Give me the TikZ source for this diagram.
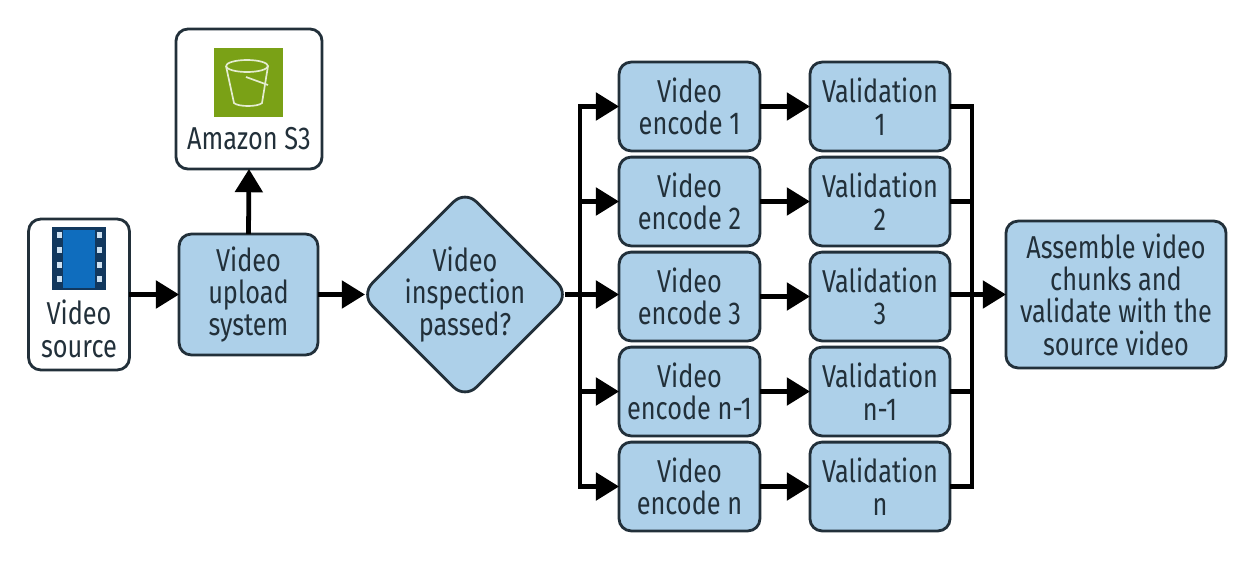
\documentclass[tikz,border=0pt]{standalone}
\usepackage{fontspec}
\setmainfont[FakeStretch=0.8]{Fira Sans}
\usetikzlibrary{arrows.meta, shapes.geometric}
\definecolor{BoxBlue}{HTML}{ADD0E9}
\definecolor{BoxEdge}{HTML}{22303A}
\definecolor{BucketGreen}{HTML}{7AA116}
\definecolor{FilmBlue}{HTML}{0F6DBE}
\definecolor{FilmDark}{HTML}{12385E}
\tikzset{
    stage/.style={draw=BoxEdge, line width=2pt, rounded corners=0.3cm, fill=BoxBlue, align=center, inner sep=0pt, outer sep=0pt, font=\fontsize{22.5}{23}\selectfont, text=BoxEdge},
    iconbox/.style={draw=BoxEdge, line width=2pt, rounded corners=0.3cm, fill=white, inner sep=0pt, outer sep=0pt},
    iconlabel/.style={font=\fontsize{22.5}{23}\selectfont, text=BoxEdge, align=center, inner sep=0pt},
    flow/.style={line width=3.4pt, black, -{Triangle[length=0.58cm, width=0.68cm]}},
    bus/.style={line width=3.4pt, black}
}
\begin{document}
\begin{tikzpicture}[x=0.025cm, y=-0.025cm]
        \useasboundingbox (0,0) rectangle (1254,567);

        \node[iconbox, minimum width=3.65cm, minimum height=3.5cm] (s3) at (249,99) {};
        \node[iconbox, minimum width=2.52cm, minimum height=3.77cm] (source) at (79,294.5) {};
        \node[stage, minimum width=3.47cm, minimum height=3.02cm] (upload) at (248.5,294.5) {Video\\upload\\system};
        \node[stage, shape=diamond, aspect=1, inner sep=-0.15cm, rounded corners=0.4cm, minimum width=5.2cm, minimum height=5.2cm] (inspect) at (465,294.5) {Video\\inspection\\passed?};

        \node[stage, minimum width=3.52cm, minimum height=2.22cm] (enc1) at (689.5,106.5) {Video\\encode 1};
        \node[stage, minimum width=3.52cm, minimum height=2.22cm] (enc2) at (689.5,201.5) {Video\\encode 2};
        \node[stage, minimum width=3.52cm, minimum height=2.22cm] (enc3) at (689.5,296.5) {Video\\encode 3};
        \node[stage, minimum width=3.52cm, minimum height=2.22cm] (enc4) at (689.5,391.5) {Video\\encode n-1};
        \node[stage, minimum width=3.52cm, minimum height=2.22cm] (enc5) at (689.5,486.5) {Video\\encode n};

        \node[stage, minimum width=3.5cm, minimum height=2.22cm] (val1) at (880,106.5) {Validation\\1};
        \node[stage, minimum width=3.5cm, minimum height=2.22cm] (val2) at (880,201.5) {Validation\\2};
        \node[stage, minimum width=3.5cm, minimum height=2.22cm] (val3) at (880,296.5) {Validation\\3};
        \node[stage, minimum width=3.5cm, minimum height=2.22cm] (val4) at (880,391.5) {Validation\\n-1};
        \node[stage, minimum width=3.5cm, minimum height=2.22cm] (val5) at (880,486.5) {Validation\\n};

        \node[stage, minimum width=5.5cm, minimum height=3.67cm] (assemble) at (1116,294.5) {Assemble video\\chunks and\\validate with the\\source video};

        % bucket icon
        \fill[BucketGreen] (214,48) rectangle (283,117);
        \draw[white!80!BucketGreen, line width=1.2pt] (226,66) arc [x radius=21, y radius=6, start angle=180, end angle=-180];
        \draw[white!80!BucketGreen, line width=1.2pt] (226,66) -- (234,103) .. controls (238,107) and (258,107) .. (262,103) -- (268,66);
        \draw[white!80!BucketGreen, line width=1.2pt] (246,77) -- (268,85);
        \node[iconlabel] (s3label) at (249,139) {Amazon S3};

        % film icon
        \fill[FilmDark] (52,227) rectangle (106,290);
        \fill[FilmBlue] (63,230) rectangle (95,288);
        \foreach \y in {235,250,265,279} {
            \fill[white!80!FilmBlue] (57,\y-3) rectangle (62,\y+3);
            \fill[white!80!FilmBlue] (97,\y-3) rectangle (102,\y+3);
        }
        \node[iconlabel] (sourcelabel) at (79,329) {Video\\source};

        \coordinate (splitpt) at (580,294.5);
        \coordinate (mergept) at (972,294.5);

        \draw[flow] (source.east |- upload.west) -- (upload.west);
        \draw[flow] (upload.north) -- (s3.south);
        \draw[flow, shorten >=-0.1cm] (upload.east) -- (inspect.west);

        \draw[bus, shorten <=-0.1cm] (inspect.east) -- (splitpt);
        \draw[flow] (splitpt) |- (enc1.west);
        \draw[flow] (splitpt) |- (enc2.west);
        \draw[flow] (splitpt) -- (enc3.west |- splitpt);
        \draw[flow] (splitpt) |- (enc4.west);
        \draw[flow] (splitpt) |- (enc5.west);

        \draw[flow] (enc1.east) -- (val1.west);
        \draw[flow] (enc2.east) -- (val2.west);
        \draw[flow] (enc3.east) -- (val3.west);
        \draw[flow] (enc4.east) -- (val4.west);
        \draw[flow] (enc5.east) -- (val5.west);

        \draw[bus] (val1.east) -| (mergept);
        \draw[bus] (val2.east) -| (mergept);
        \draw[bus] (val4.east) -| (mergept);
        \draw[bus] (val5.east) -| (mergept);
        \draw[flow] (val3.east |- mergept) -- (assemble.west);
    \end{tikzpicture}
\end{document}
